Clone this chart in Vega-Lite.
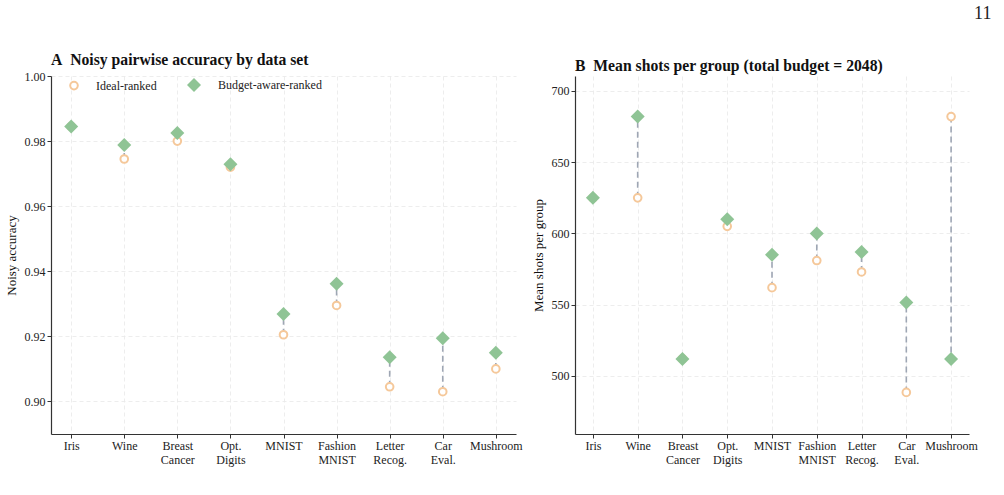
{
  "$schema": "https://vega.github.io/schema/vega-lite/v6.json",
  "padding": {"left": 5, "top": 5, "right": 5, "bottom": 5},
  "background": "white",
  "title": {"text": "11", "anchor": "end", "frame": "bounds", "fontSize": 18, "fontWeight": "normal", "font": "Liberation Serif", "color": "#222", "offset": 29, "dx": 14},
  "datasets": {
    "results": [
      {"dataset": "Iris", "method": "Ideal-ranked", "acc": 0.9845, "shots": 625},
      {"dataset": "Wine", "method": "Ideal-ranked", "acc": 0.9745, "shots": 625},
      {"dataset": "Breast Cancer", "method": "Ideal-ranked", "acc": 0.980, "shots": 512},
      {"dataset": "Opt. Digits", "method": "Ideal-ranked", "acc": 0.972, "shots": 605},
      {"dataset": "MNIST", "method": "Ideal-ranked", "acc": 0.9205, "shots": 562},
      {"dataset": "Fashion MNIST", "method": "Ideal-ranked", "acc": 0.9295, "shots": 581},
      {"dataset": "Letter Recog.", "method": "Ideal-ranked", "acc": 0.9045, "shots": 573},
      {"dataset": "Car Eval.", "method": "Ideal-ranked", "acc": 0.903, "shots": 488.5},
      {"dataset": "Mushroom", "method": "Ideal-ranked", "acc": 0.910, "shots": 682},
      {"dataset": "Iris", "method": "Budget-aware-ranked", "acc": 0.9845, "shots": 625},
      {"dataset": "Wine", "method": "Budget-aware-ranked", "acc": 0.9788, "shots": 682},
      {"dataset": "Breast Cancer", "method": "Budget-aware-ranked", "acc": 0.9825, "shots": 512},
      {"dataset": "Opt. Digits", "method": "Budget-aware-ranked", "acc": 0.9729, "shots": 610},
      {"dataset": "MNIST", "method": "Budget-aware-ranked", "acc": 0.9269, "shots": 585},
      {"dataset": "Fashion MNIST", "method": "Budget-aware-ranked", "acc": 0.9362, "shots": 600},
      {"dataset": "Letter Recog.", "method": "Budget-aware-ranked", "acc": 0.9136, "shots": 587},
      {"dataset": "Car Eval.", "method": "Budget-aware-ranked", "acc": 0.9194, "shots": 551.5},
      {"dataset": "Mushroom", "method": "Budget-aware-ranked", "acc": 0.915, "shots": 512}
    ]
  },
  "config": {
    "font": "Liberation Serif",
    "view": {"stroke": null},
    "title": {"anchor": "start", "frame": "group", "fontSize": 15.7, "fontWeight": "bold", "color": "#111", "offset": 1},
    "axis": {
      "labelFont": "Liberation Serif", "titleFont": "Liberation Serif",
      "labelFontSize": 12, "titleFontSize": 13, "titleFontWeight": "normal",
      "labelColor": "#222", "titleColor": "#111",
      "domainColor": "#333", "domainWidth": 1.2, "tickColor": "#333", "tickSize": 4,
      "grid": true, "gridColor": "#e8e8e8", "gridDash": [4, 3], "gridWidth": 0.8
    },
    "legend": {
      "labelFont": "Liberation Serif", "labelFontSize": 12, "labelColor": "#222",
      "orient": "none", "legendX": 17, "legendY": 1, "direction": "horizontal",
      "labelOffset": 16, "columnPadding": 26, "symbolStrokeWidth": 2
    }
  },
  "hconcat": [
    {
      "title": "A\u2002Noisy pairwise accuracy by data set",
      "width": 465,
      "height": 358,
      "data": {"name": "results"},
      "encoding": {
        "x": {
          "field": "dataset", "type": "nominal", "sort": null,
          "scale": {"type": "point", "padding": 0.38},
          "axis": {"title": null, "labelAngle": 0, "labelExpr": "split(datum.label, ' ')", "labelLineHeight": 14}
        }
      },
      "layer": [
        {
          "transform": [{"pivot": "method", "value": "acc", "groupby": ["dataset"]}],
          "mark": {"type": "rule", "color": "#9ea6b4", "strokeWidth": 1.6, "strokeDash": [6, 4]},
          "encoding": {
            "y": {"field": "Ideal-ranked", "type": "quantitative"},
            "y2": {"field": "Budget-aware-ranked"}
          }
        },
        {
          "mark": {"type": "point", "opacity": 1, "strokeWidth": 2},
          "encoding": {
            "y": {
              "field": "acc", "type": "quantitative",
              "scale": {"domain": [0.89, 1.0], "nice": false, "zero": false},
              "axis": {"title": "Noisy accuracy", "values": [0.90, 0.92, 0.94, 0.96, 0.98, 1.00], "format": ".2f", "titlePadding": 6}
            },
            "shape": {"field": "method", "type": "nominal", "scale": {"domain": ["Ideal-ranked", "Budget-aware-ranked"], "range": ["circle", "diamond"]}, "title": null},
            "fill": {"field": "method", "type": "nominal", "scale": {"domain": ["Ideal-ranked", "Budget-aware-ranked"], "range": ["#ffffff", "#8fc495"]}, "title": null},
            "stroke": {"field": "method", "type": "nominal", "scale": {"domain": ["Ideal-ranked", "Budget-aware-ranked"], "range": ["#f5c89a", "transparent"]}, "title": null},
            "size": {"field": "method", "type": "nominal", "scale": {"domain": ["Ideal-ranked", "Budget-aware-ranked"], "range": [58, 196]}, "title": null}
          }
        }
      ]
    },
    {
      "title": "B\u2002Mean shots per group (total budget = 2048)",
      "width": 394,
      "height": 358,
      "data": {"name": "results"},
      "encoding": {
        "x": {
          "field": "dataset", "type": "nominal", "sort": null,
          "scale": {"type": "point", "padding": 0.4},
          "axis": {"title": null, "labelAngle": 0, "labelExpr": "split(datum.label, ' ')", "labelLineHeight": 14}
        }
      },
      "layer": [
        {
          "transform": [{"pivot": "method", "value": "shots", "groupby": ["dataset"]}],
          "mark": {"type": "rule", "color": "#9ea6b4", "strokeWidth": 1.6, "strokeDash": [6, 4]},
          "encoding": {
            "y": {"field": "Ideal-ranked", "type": "quantitative"},
            "y2": {"field": "Budget-aware-ranked"}
          }
        },
        {
          "mark": {"type": "point", "opacity": 1, "strokeWidth": 2},
          "encoding": {
            "y": {
              "field": "shots", "type": "quantitative",
              "scale": {"domain": [459.3, 710.5], "nice": false, "zero": false},
              "axis": {"title": "Mean shots per group", "values": [500, 550, 600, 650, 700], "titlePadding": 6}
            },
            "shape": {"field": "method", "type": "nominal", "scale": {"domain": ["Ideal-ranked", "Budget-aware-ranked"], "range": ["circle", "diamond"]}, "legend": null},
            "fill": {"field": "method", "type": "nominal", "scale": {"domain": ["Ideal-ranked", "Budget-aware-ranked"], "range": ["#ffffff", "#8fc495"]}, "legend": null},
            "stroke": {"field": "method", "type": "nominal", "scale": {"domain": ["Ideal-ranked", "Budget-aware-ranked"], "range": ["#f5c89a", "transparent"]}, "legend": null},
            "size": {"field": "method", "type": "nominal", "scale": {"domain": ["Ideal-ranked", "Budget-aware-ranked"], "range": [58, 196]}, "legend": null}
          }
        }
      ]
    }
  ],
  "resolve": {"scale": {"y": "independent", "x": "independent"}, "legend": {"shape": "independent", "fill": "independent", "stroke": "independent", "size": "independent"}},
  "spacing": 9
}
